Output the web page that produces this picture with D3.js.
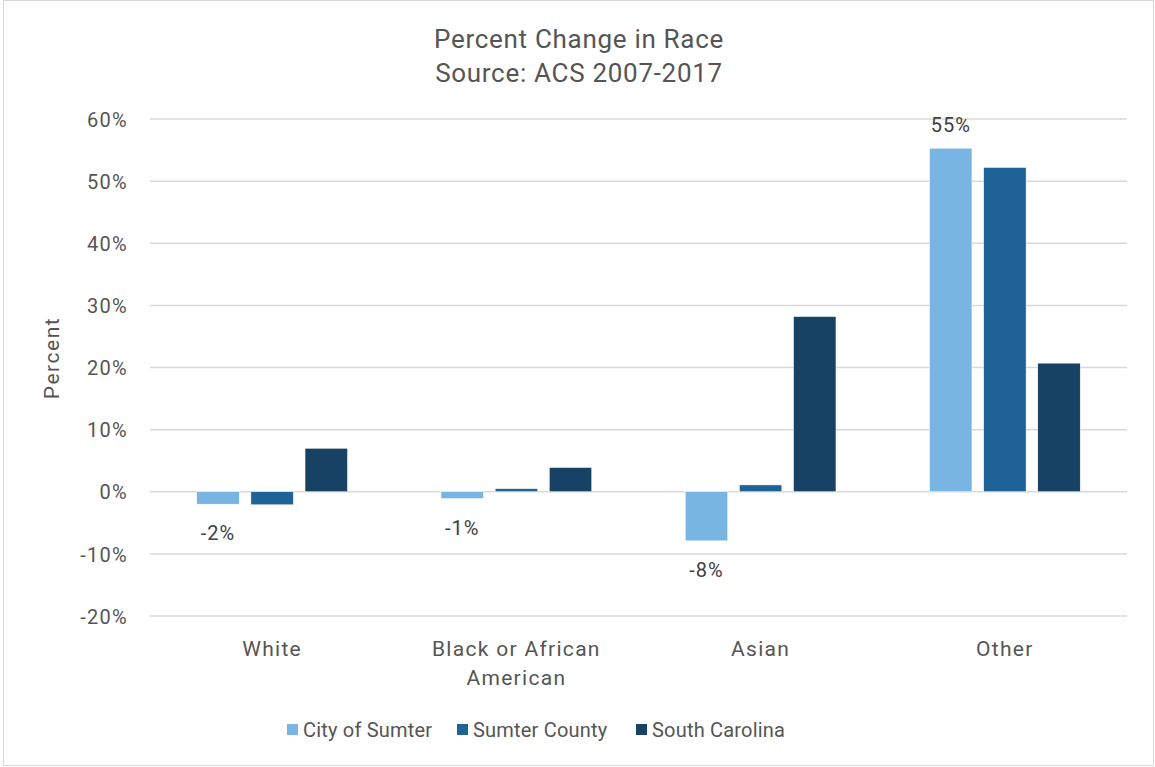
<!DOCTYPE html>
<html>
<head>
<meta charset="utf-8">
<script src="https://cdn.jsdelivr.net/npm/d3@7"></script>
<style>
  body { margin: 0; background: #fff; }
  svg { font-family: Roboto, "DejaVu Sans", sans-serif; }
</style>
</head>
<body>
<svg id="chart" width="1155" height="767"></svg>
<script>
// data
const categories = ["White", "Black or African American", "Asian", "Other"];
const seriesNames = ["City of Sumter", "Sumter County", "South Carolina"];
const cityOfSumter = [-2.0, -1.1, -7.9, 55.3];
const sumterCounty = [-2.1, 0.5, 1.1, 52.2];
const southCarolina = [7.0, 3.9, 28.2, 20.7];
const yTicks = [-20, -10, 0, 10, 20, 30, 40, 50, 60];
const colors = ["#78b5e3", "#1f6396", "#174263"];

const values = [cityOfSumter, sumterCounty, southCarolina];
const rows = categories.map((c, i) => ({
    category: c,
    bars: seriesNames.map((s, j) => ({ series: s, value: values[j][i] }))
}));

const svg = d3.select("#chart");
const margin = { top: 119, right: 28, bottom: 151, left: 150 };
const width = 1155 - margin.left - margin.right;
const height = 767 - margin.top - margin.bottom;

// outer border
svg.append("rect")
    .attr("x", 3.5).attr("y", 0.5)
    .attr("width", 1150).attr("height", 765)
    .attr("fill", "none")
    .attr("stroke", "#d9d9d9");

// titles
svg.append("text")
    .attr("x", 579).attr("y", 48)
    .attr("text-anchor", "middle")
    .attr("fill", "#555")
    .style("font-size", "26px")
    .style("letter-spacing", "0.7px")
    .text("Percent Change in Race");
svg.append("text")
    .attr("x", 579).attr("y", 82)
    .attr("text-anchor", "middle")
    .attr("fill", "#555")
    .style("font-size", "26px")
    .style("letter-spacing", "0.7px")
    .text("Source: ACS 2007-2017");

const g = svg.append("g")
    .attr("transform", `translate(${margin.left}, ${margin.top})`);

const x0 = d3.scaleBand()
    .domain(categories)
    .range([0, width])
    .paddingInner(0.383)
    .paddingOuter(0.1915);

const x1 = d3.scaleBand()
    .domain(seriesNames)
    .range([0, x0.bandwidth()])
    .paddingInner(0.216)
    .paddingOuter(0);

const color = d3.scaleOrdinal().domain(seriesNames).range(colors);

const y = d3.scaleLinear()
    .domain([-20, 60])
    .range([497, 0]);

// gridlines
g.append("g")
    .selectAll("line")
    .data(yTicks)
    .enter()
    .append("line")
    .attr("x1", 0).attr("x2", width)
    .attr("y1", d => y(d)).attr("y2", d => y(d))
    .attr("stroke", "#d9d9d9")
    .attr("stroke-width", 1.5);

// y axis labels
const yAxis = g.append("g")
    .call(d3.axisLeft(y).tickValues(yTicks).tickSize(0).tickPadding(22)
        .tickFormat(d => d + "%"));
yAxis.select(".domain").remove();
yAxis.selectAll("text")
    .attr("fill", "#555")
    .attr("dy", "0.36em")
    .style("font-size", "20px")
    .style("letter-spacing", "1.3px")
    .style("font-family", "Roboto, sans-serif");

svg.append("text")
    .attr("transform", "rotate(-90)")
    .attr("x", -358).attr("y", 59)
    .attr("text-anchor", "middle")
    .attr("fill", "#555")
    .style("font-size", "21px")
    .style("letter-spacing", "1.5px")
    .text("Percent");

// bars
const groups = g.selectAll(".group")
    .data(rows)
    .enter()
    .append("g")
    .attr("class", "group")
    .attr("transform", d => `translate(${x0(d.category)}, 0)`);

groups.selectAll("rect")
    .data(d => d.bars)
    .enter()
    .append("rect")
    .attr("x", d => x1(d.series))
    .attr("y", d => y(Math.max(0, d.value)))
    .attr("width", x1.bandwidth())
    .attr("height", d => Math.abs(y(d.value) - y(0)))
    .attr("fill", d => color(d.series))
    .attr("stroke", "#fff")
    .attr("stroke-width", 0.5);

// data labels on City of Sumter
groups.append("text")
    .datum(d => d.bars[0])
    .attr("x", d => x1(d.series) + x1.bandwidth() / 2)
    .attr("y", d => d.value < 0 ? y(d.value) + 36 : y(d.value) - 16)
    .attr("text-anchor", "middle")
    .attr("fill", "#404040")
    .style("font-size", "20px")
    .style("letter-spacing", "1px")
    .text(d => d3.format(".0f")(d.value).replace("−", "-") + "%");

// category labels
const xLabels = g.append("g")
    .selectAll("text")
    .data(categories)
    .enter()
    .append("text")
    .attr("x", d => x0(d) + x0.bandwidth() / 2)
    .attr("y", 537)
    .attr("text-anchor", "middle")
    .attr("fill", "#555")
    .style("font-size", "21px")
    .style("letter-spacing", "1.3px");

xLabels.each(function(d) {
    const lines = d === "Black or African American" ? ["Black or African", "American"] : [d];
    const t = d3.select(this);
    lines.forEach((l, i) => {
        t.append("tspan")
            .attr("x", t.attr("x"))
            .attr("dy", i === 0 ? 0 : 29)
            .text(l);
    });
});

// legend
const legendX = [287, 457, 636];
const legend = svg.append("g")
    .selectAll("g")
    .data(seriesNames)
    .enter()
    .append("g")
    .attr("transform", (d, i) => `translate(${legendX[i]}, 724)`);
legend.append("rect")
    .attr("width", 11).attr("height", 11)
    .attr("fill", d => color(d));
legend.append("text")
    .attr("x", 16).attr("y", 13)
    .attr("fill", "#555")
    .style("font-size", "20px")
    .style("letter-spacing", "0.2px")
    .text(d => d);
</script>
</body>
</html>
